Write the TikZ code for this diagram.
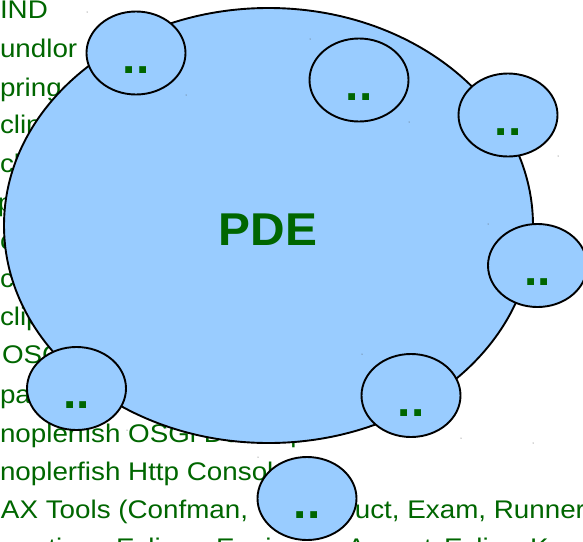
\documentclass[tikz,border=0pt]{standalone}
\usepackage{fontspec}
\setmainfont{Liberation Sans}
\newfontfamily\listfont[FakeStretch=1.09]{Liberation Sans}
\newfontfamily\labelfont[FakeStretch=1.04]{Liberation Sans}
\usetikzlibrary{shapes.geometric}
\definecolor{dgreen}{HTML}{006600}
\definecolor{lblue}{HTML}{99CCFF}
\tikzset{
  listline/.style={anchor=base west,inner sep=0pt,outer sep=0pt,text=dgreen,font=\listfont\fontsize{25.5}{25.5}\selectfont},
  bigblob/.style={ellipse,draw=black,line width=1.9pt,fill=lblue,minimum width=529pt,minimum height=435pt,inner sep=0pt,outer sep=0pt},
  smallblob/.style={ellipse,draw=black,line width=1.9pt,fill=lblue,minimum width=99pt,minimum height=83pt,inner sep=0pt,outer sep=0pt},
  dotdot/.style={anchor=base,inner sep=0pt,outer sep=0pt,text=dgreen,font=\labelfont\fontsize{46}{46}\selectfont\bfseries},
  speck/.style={circle,fill=black!70,minimum size=1pt,inner sep=0pt}
}
\begin{document}
\begin{tikzpicture}[x=1pt,y=-1pt]
\useasboundingbox (0,0) rectangle (583,541);
\begin{scope}
\clip (0,0) rectangle (583,541);
\node[listline] (t1) at (0,18) {IND};
\node[listline] (t2) at (0,57) {undlor};
\node[listline] (t3) at (0,96) {pring};
\node[listline] (t4) at (0,133) {clin};
\node[listline] (t5) at (0,172) {cl};
\node[listline] (t6) at (-2,211) {p};
\node[listline] (t7) at (0,249) {c};
\node[listline] (t8) at (0,287) {c};
\node[listline] (t9) at (0,325) {clip};
\node[listline] (t10) at (2,363) {OSGi};
\node[listline] (t11) at (0,403) {pa};
\node[listline] (t12) at (0,442) {noplerfish OSGi Desktop};
\node[listline] (t13) at (0,480) {noplerfish Http Console};
\node[listline] (t14) at (1,518) {AX Tools (Confman,};
\node[listline] (t14b) at (273,518) {Construct, Exam, Runner};
\node[listline] (t15a) at (33,556.5) {ations};
\node[listline] (t15b) at (116,556.5) {Eclipse};
\node[listline] (t15c) at (216,556.5) {Equinox};
\node[listline] (t15d) at (347,556.5) {Aspects};
\node[listline] (t15e) at (444,556.5) {Eclipse};
\node[listline] (t15f) at (530,556.5) {K};
\node[bigblob] (pde) at (268.5,225.5) {};
\node[smallblob] (a) at (136,53) {};
\node[smallblob] (b) at (359,80) {};
\node[smallblob] (c) at (508,115) {};
\node[smallblob] (d) at (537.5,265.5) {};
\node[smallblob] (e) at (411,395.5) {};
\node[smallblob] (f) at (76.5,388.5) {};
\node[smallblob] (g) at (307,498.5) {};
\node[dotdot] (pdet) at (268,245) {PDE};
\node[dotdot] (at) at (136,73) {..};
\node[dotdot] (bt) at (359,100) {..};
\node[dotdot] (ct) at (508,135) {..};
\node[dotdot] (dt) at (537.5,285) {..};
\node[dotdot] (et) at (411,416) {..};
\node[dotdot] (ft) at (76.5,408) {..};
\node[dotdot] (gt) at (307,518) {..};
\foreach \n/\p in {s1/{87,12},s2/{186,95},s3/{310,39},s4/{409,122},s5/{558,156},s6/{488,224},s7/{362,354},s8/{461,438},s9/{533,443},s10/{127,430},s11/{258,457}}
  \node[speck] (\n) at (\p) {};
\end{scope}
\end{tikzpicture}
\end{document}
